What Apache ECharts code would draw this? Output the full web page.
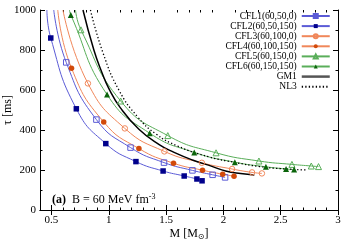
<!DOCTYPE html>
<html><head><meta charset="utf-8">
<script src="https://cdn.jsdelivr.net/npm/echarts@6/dist/echarts.min.js"></script>
<style>html,body{margin:0;padding:0;background:#fff}#c{width:350px;height:245px}</style>
</head><body><div id="c"></div>
<script>
// ---- data (M [Msun], tau [ms]) ----
const cfl1 = [[0.52,1000],[0.629,738],[0.892,452],[1.19,312],[1.482,237],[1.73,198],[1.906,176],[2.015,163]];
const cfl2 = [[0.46,1000],[0.494,860],[0.717,506],[0.974,332],[1.237,242],[1.474,195],[1.658,170],[1.769,155],[1.814,146]];
const cfl3 = [[0.60,1000],[0.818,633],[1.14,408],[1.485,293],[1.812,236],[2.076,205],[2.25,188],[2.336,183]];
const cfl4 = [[0.555,1000],[0.675,709],[0.956,440],[1.263,307],[1.565,234],[1.818,199],[1.994,179],[2.093,169]];
const cfl5 = [[0.71,1000],[0.757,901],[1.104,545],[1.515,372],[1.936,286],[2.31,245],[2.598,228],[2.767,220],[2.83,217]];
const cfl6 = [[0.657,1000],[0.669,975],[0.985,577],[1.357,384],[1.746,288],[2.10,239],[2.371,216],[2.547,205],[2.617,202]];
const gm1 = [[0.775,1000],[0.87,800],[0.94,688],[1.0,608],[1.1,512],[1.263,404],[1.44,327],[1.57,288],[1.73,250],[1.906,217],[2.02,195],[2.15,182],[2.27,175]];
const nl3 = [[0.84,1000],[0.95,785],[1.088,600],[1.25,467],[1.41,381],[1.6,320],[1.877,265],[2.1,238],[2.316,217],[2.5,207],[2.725,200]];
const seriesNames = ['CFL1(60,50,0)','CFL2(60,50,150)','CFL3(60,100,0)','CFL4(60,100,150)','CFL5(60,150,0)','CFL6(60,150,150)','GM1','NL3'];
const xMajor = [0.5,1,1.5,2,2.5,3];
const xMinor = [0.4,0.6,0.7,0.8,0.9,1.1,1.2,1.3,1.4,1.6,1.7,1.8,1.9,2.1,2.2,2.3,2.4,2.6,2.7,2.8,2.9];
const xLabels = ['0.5','1','1.5','2','2.5','3'];

const FONT = 'Liberation Serif';
const chart = echarts.init(document.getElementById('c'), null, {renderer:'canvas'});

function pts(arr){
  // first point of each curve is the top end of the line (no marker)
  return arr.map((p,i)=> i===0 ? {value:p, symbol:'none'} : p);
}
function cfl(name, data, lineColor, markColor, symbol, filled){
  return {
    name, type:'line', data: pts(data), xAxisIndex:0, yAxisIndex:0,
    smooth:0.5, symbol, symbolSize: symbol==='triangle'?6:5.5,
    showAllSymbol:true, clip:true,
    lineStyle:{color:lineColor, width:1},
    itemStyle: filled ? {color:markColor, borderColor:markColor, borderWidth:0}
                      : {color:'rgba(255,255,255,0)', borderColor:lineColor, borderWidth:1},
    emphasis:{disabled:true}
  };
}
const blue='#5b5bd6', blueD='#00008c', orng='#f0875a', orngD='#d24a0a', grn='#5aae5a', grnD='#0a640a';

const common = {type:'value', min:0.4, max:3};
const gridBox = {left:40, right:12, top:10, bottom:35, containLabel:false, outerBoundsMode:'none'};
const option = {
  animation:false,
  textStyle:{fontFamily:FONT},
  grid:[ Object.assign({}, gridBox), Object.assign({}, gridBox) ],
  xAxis:[
    Object.assign({}, common, {gridIndex:0, position:'bottom',
      name:'M [M{s|\u2299}]', nameLocation:'middle', nameGap:17, nameMoveOverlap:false,
      nameTextStyle:{fontFamily:FONT, fontSize:12, color:'#000', rich:{s:{fontSize:8, fontFamily:'DejaVu Sans', verticalAlign:'bottom', padding:[6,0,0,0]}}},
      axisLine:{lineStyle:{color:'#000', width:1}},
      axisTick:{inside:true, length:5, customValues:xMajor, lineStyle:{color:'#000'}},
      axisLabel:{customValues:xMajor, margin:5, fontSize:11, color:'#000', fontFamily:FONT,
        formatter:(v)=>{const i=xMajor.findIndex(m=>Math.abs(m-v)<1e-6); return i>=0?xLabels[i]:'';}},
      splitLine:{show:false}}),
    Object.assign({}, common, {gridIndex:0, position:'top',
      axisLine:{lineStyle:{color:'#000', width:1}},
      axisTick:{inside:true, length:5, customValues:xMajor, lineStyle:{color:'#000'}},
      axisLabel:{show:false}, splitLine:{show:false}}),
    Object.assign({}, common, {gridIndex:1, position:'bottom',
      axisLine:{show:false},
      axisTick:{inside:true, length:2.5, customValues:xMinor, lineStyle:{color:'#000'}},
      axisLabel:{show:false}, splitLine:{show:false}}),
    Object.assign({}, common, {gridIndex:1, position:'top',
      axisLine:{show:false},
      axisTick:{inside:true, length:2.5, customValues:xMinor, lineStyle:{color:'#000'}},
      axisLabel:{show:false}, splitLine:{show:false}})
  ],
  yAxis:[
    {type:'value', gridIndex:0, position:'left', min:0, max:1000, interval:200,
      name:'\u03c4 [ms]', nameLocation:'middle', nameGap:26, nameRotate:90, nameMoveOverlap:false,
      nameTextStyle:{fontFamily:FONT, fontSize:12, color:'#000'},
      axisLine:{show:true, lineStyle:{color:'#000', width:1}},
      axisTick:{show:true, inside:true, length:5, lineStyle:{color:'#000'}},
      minorTick:{show:true, splitNumber:2, length:2.5, lineStyle:{color:'#000'}},
      axisLabel:{margin:4, fontSize:11, color:'#000', fontFamily:FONT, formatter:(v)=>String(v)},
      splitLine:{show:false}},
    {type:'value', gridIndex:0, position:'right', min:0, max:1000, interval:200,
      axisLine:{show:true, lineStyle:{color:'#000', width:1}},
      axisTick:{show:true, inside:true, length:5, lineStyle:{color:'#000'}},
      minorTick:{show:true, splitNumber:2, length:2.5, lineStyle:{color:'#000'}},
      axisLabel:{show:false}, splitLine:{show:false}},
    {type:'value', gridIndex:1, min:0, max:1000, show:false}
  ],
  legend:{
    orient:'vertical', right:19, top:11, align:'right', padding:0,
    itemWidth:28, itemHeight:5, itemGap:0.1,
    textStyle:{fontFamily:FONT, fontSize:9.5, lineHeight:10, color:'#000'},
    data: seriesNames.map(n => n==='GM1' ? {name:n, itemStyle:{opacity:0}, lineStyle:{width:2.5, color:'#555'}}
                               : n==='NL3' ? {name:n, itemStyle:{opacity:0}} : n)
  },
  graphic:[{
    type:'text', left:52, top:193, z:10,
    style:{
      text:'{b|(a)}  B = 60 MeV fm{sup|-3}',
      font:'12px "Liberation Serif"', fill:'#000',
      rich:{
        b:{fontWeight:'bold', fontSize:12, fontFamily:FONT},
        sup:{fontSize:8, fontFamily:FONT, verticalAlign:'top', padding:[0,0,6,0]}
      }
    }
  }],
  series:[
    cfl(seriesNames[0], cfl1, blue, blueD, 'rect', false),
    cfl(seriesNames[1], cfl2, blue, blueD, 'rect', true),
    cfl(seriesNames[2], cfl3, orng, orngD, 'circle', false),
    cfl(seriesNames[3], cfl4, orng, orngD, 'circle', true),
    cfl(seriesNames[4], cfl5, grn, grnD, 'triangle', false),
    cfl(seriesNames[5], cfl6, grn, grnD, 'triangle', true),
    {name:'GM1', type:'line', data:gm1, xAxisIndex:0, yAxisIndex:0, smooth:0.5,
      symbol:'none', lineStyle:{color:'#000', width:1.5}, itemStyle:{color:'#000'}, clip:true},
    {name:'NL3', type:'line', data:nl3, xAxisIndex:0, yAxisIndex:0, smooth:0.5,
      symbol:'none', lineStyle:{color:'#000', width:1.3, type:[1.3,2.2]}, itemStyle:{color:'#000'}, clip:true},
    {type:'line', data:[], xAxisIndex:2, yAxisIndex:2}
  ]
};
chart.setOption(option);
</script>
</body></html>
